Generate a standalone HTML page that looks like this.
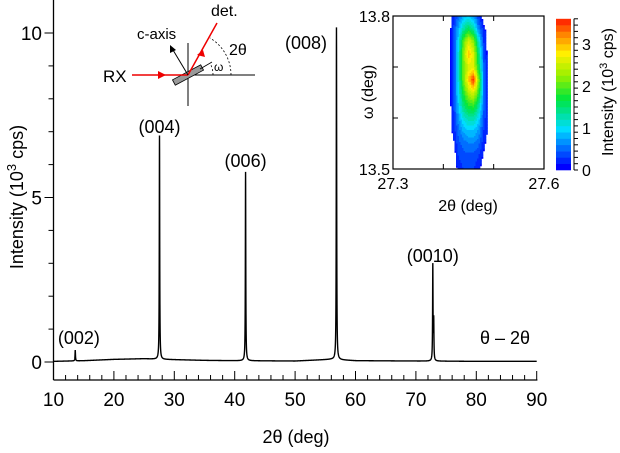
<!DOCTYPE html>
<html><head><meta charset="utf-8"><style>
body{margin:0;background:#fff;width:620px;height:448px;overflow:hidden}
svg text{font-family:"Liberation Sans",Arial,sans-serif;fill:#000}
</style></head><body>
<svg id="c" width="620" height="448" xmlns="http://www.w3.org/2000/svg">
<g id="main"></g>
<g id="diag">
 <line x1="188" y1="43" x2="188" y2="106" stroke="#000" stroke-width="1"/>
 <line x1="188" y1="75" x2="255" y2="75" stroke="#000" stroke-width="1"/>
 <rect x="172" y="72" width="32" height="6" fill="#999" stroke="#000" stroke-width="0.8" transform="rotate(-28 188 75)"/>
 <line x1="132" y1="75" x2="188" y2="75" stroke="#e00" stroke-width="1.5"/>
 <polygon points="166,75 158,71 158,79" fill="#e00"/>
 <line x1="188" y1="75" x2="217" y2="23" stroke="#e00" stroke-width="1.5"/>
 <polygon points="203,50 197,55 205,57" fill="#e00"/>
 <line x1="188" y1="75" x2="173" y2="50" stroke="#000" stroke-width="1"/>
 <polygon points="170,45 170,53 176,50" fill="#000"/>
 <line x1="200" y1="69" x2="212" y2="62" stroke="#000" stroke-width="0.8"/>
 <path d="M231,75 A43,43 0 0 0 210,38" fill="none" stroke="#000" stroke-dasharray="2,2" stroke-width="0.8"/>
 <path d="M213,75 A25,25 0 0 0 210,63" fill="none" stroke="#000" stroke-dasharray="2,2" stroke-width="0.8"/>
 <text x="103" y="82" font-size="17">RX</text>
 <text x="137" y="39" font-size="15">c-axis</text>
 <text x="211" y="16" font-size="16">det.</text>
 <text x="229" y="55" font-size="16">2θ</text>
 <text x="214" y="71" font-size="12">ω</text>
</g>
<g id="inset"></g>
</svg>
<script>
// main scan data
const xTicks=[10,20,30,40,50,60,70,80,90];
const yTicks=[0,5,10];
const peakPos=[13.6,27.55,41.8,56.85,72.8,72.95];
const peakHeight=[0.33,6.8,5.74,10.1,2.9,1.2];
const peakLabels=["(002)","(004)","(006)","(008)","(0010)"];
const peakLabelPos=[[14.2,0.55],[27.55,6.96],[41.8,5.93],[51.8,9.51],[72.8,3.04]];
const baseX=[10,15,20,25,28,35,40,50,56,60,70,80,90];
const baseY=[0.02,0.04,0.08,0.1,0.08,0.05,0.04,0.03,0.08,0.04,0.03,0.02,0.02];
// inset map data (10^3 cps), rows ω 13.800 -> 13.500 step 0.025, cols 2θ 27.40 -> 27.52 step 0.01
const mapTheta=[27.40,27.41,27.42,27.43,27.44,27.45,27.46,27.47,27.48,27.49,27.50,27.51,27.52];
const mapOmega=[13.8,13.775,13.75,13.725,13.7,13.675,13.65,13.625,13.6,13.575,13.55,13.525,13.5];
const mapI=[
[0,0,0.2,0.5,0.8,0.9,0.7,0.3,0,0,0,0,0],
[0,0,0.3,0.8,1.3,1.6,1.3,0.6,0.2,0,0,0,0],
[0,0,0.3,1.0,2.0,2.6,2.2,1.2,0.3,0,0,0,0],
[0,0,0.3,1.1,2.2,3.0,2.6,1.5,0.4,0,0,0,0],
[0,0,0.3,1.1,2.1,2.6,2.6,1.7,0.5,0,0,0,0],
[0,0,0.3,1.1,2.1,2.9,3.6,2.2,0.6,0.1,0,0,0],
[0,0,0.3,1.0,1.8,2.4,2.6,1.9,0.6,0.1,0,0,0],
[0,0,0.3,0.9,1.5,1.8,1.9,1.4,0.5,0.1,0,0,0],
[0,0,0.2,0.7,1.1,1.3,1.3,1.0,0.4,0.1,0,0,0],
[0,0,0.2,0.5,0.8,0.9,0.9,0.7,0.3,0.1,0,0,0],
[0,0,0.1,0.4,0.5,0.6,0.6,0.5,0.2,0,0,0,0],
[0,0,0,0.3,0.4,0.4,0.4,0.3,0.1,0,0,0,0],
[0,0,0,0.2,0.3,0.3,0.3,0.2,0,0,0,0,0]];
const cbTicks=[0,1,2,3];

const NS="http://www.w3.org/2000/svg";
function mk(p,t,a){const e=document.createElementNS(NS,t);for(const k in a)e.setAttribute(k,a[k]);p.appendChild(e);return e;}
const X=v=>53.5+(v-10)*6.04, Y=v=>362-v*32.9;
const M=document.getElementById('main');
let e=mk(M,'line',{x1:X(10),y1:0,x2:X(10),y2:380,stroke:'#000','stroke-width':1.3});

e=mk(M,'line',{x1:X(10),y1:380,x2:X(90)+0.7,y2:380,stroke:'#000','stroke-width':1.3});

for(let v=10;v<=90;v+=2){const maj=(v%10===0);mk(M,'line',{x1:X(v),y1:380,x2:X(v),y2:380-(maj?9:5),stroke:'#000'});}
xTicks.forEach(v=>{const t=mk(M,'text',{x:X(v),y:406,'font-size':19,'text-anchor':'middle'});t.textContent=v;
});
for(let v=0;v<=10.5;v+=1){const maj=(v%5===0);mk(M,'line',{x1:X(10),y1:Y(v),x2:X(10)-(maj?9:5),y2:Y(v),stroke:'#000'});}
yTicks.forEach(v=>{const t=mk(M,'text',{x:42,y:Y(v)+7,'font-size':19,'text-anchor':'end'});t.textContent=v;
});
e=mk(M,'text',{x:0,y:0,'font-size':18,'text-anchor':'middle',transform:'translate(23,197) rotate(-90)'});
e.innerHTML='Intensity (10<tspan dy="-7" font-size="13">3</tspan><tspan dy="7"> cps)</tspan>';

e=mk(M,'text',{x:296,y:443,'font-size':18,'text-anchor':'middle'});e.textContent='2θ (deg)';

function base(x){for(let i=0;i<baseX.length-1;i++)if(x<=baseX[i+1]){const f=(x-baseX[i])/(baseX[i+1]-baseX[i]);return baseY[i]+f*(baseY[i+1]-baseY[i]);}return baseY[baseY.length-1];}
let d='';
for(let x=10;x<=90.0001;x+=0.01){let y=base(x);peakPos.forEach((p,i)=>{const w=0.08;y+=peakHeight[i]/(1+((x-p)/w)**2*4);});
d+=(d?'L':'M')+X(x).toFixed(2)+','+Y(y).toFixed(2);}
e=mk(M,'path',{d:d,fill:'none',stroke:'#000','stroke-width':1.4});

peakLabels.forEach((s,i)=>{const t=mk(M,'text',{x:X(peakLabelPos[i][0]),y:Y(peakLabelPos[i][1]),'font-size':18,'text-anchor':'middle'});t.textContent=s;
});
e=mk(M,'text',{x:505,y:344,'font-size':18,'text-anchor':'middle'});e.textContent='θ – 2θ';


const I=document.getElementById('inset');
const ix0=393,ix1=544,iy0=16,iy1=169;
const IX=v=>ix0+(v-27.3)/0.3*(ix1-ix0), IY=v=>iy1-(v-13.5)/0.3*(iy1-iy0);
const vmax=3.6,nlev=24;
function col(v){let t=Math.min(1,Math.max(0,v/vmax));t=Math.floor(t*nlev)/nlev;
const stops=[[0,0,0,255],[0.25,0,220,255],[0.45,0,230,60],[0.6,150,240,0],[0.75,255,240,0],[0.88,255,130,0],[1,255,0,0]];
for(let i=0;i<stops.length-1;i++)if(t<=stops[i+1][0]){const a=stops[i],b=stops[i+1],f=(t-a[0])/(b[0]-a[0]);
return `rgb(${Math.round(a[1]+f*(b[1]-a[1]))},${Math.round(a[2]+f*(b[2]-a[2]))},${Math.round(a[3]+f*(b[3]-a[3]))})`;}return 'rgb(255,0,0)';}
function interp(th,om){const fc=(th-mapTheta[0])/0.01, fr=(mapOmega[0]-om)/0.025;
if(fc<0||fc>mapTheta.length-1||fr<0||fr>mapOmega.length-1)return 0;
const c=Math.min(Math.floor(fc),mapTheta.length-2),r=Math.min(Math.floor(fr),mapOmega.length-2),a=fc-c,b=fr-r;
return mapI[r][c]*(1-a)*(1-b)+mapI[r][c+1]*a*(1-b)+mapI[r+1][c]*(1-a)*b+mapI[r+1][c+1]*a*b;}
const cells=mk(I,'g',{});

const st=1.5;
for(let py=iy0;py<iy1;py+=st)for(let px=ix0;px<ix1;px+=st){
const th=27.3+(px+st/2-ix0)/(ix1-ix0)*0.3, om=13.5+(iy1-py-st/2)/(iy1-iy0)*0.3;
const v=interp(th,om);if(v<0.14)continue;
mk(cells,'rect',{x:px,y:py,width:st+0.3,height:st+0.3,fill:col(v)});}
e=mk(I,'rect',{x:ix0,y:iy0,width:ix1-ix0,height:iy1-iy0,fill:'none',stroke:'#000','stroke-width':1.2});

[27.4,27.5].forEach(v=>{mk(I,'line',{x1:IX(v),y1:iy1,x2:IX(v),y2:iy1-5,stroke:'#000'});mk(I,'line',{x1:IX(v),y1:iy0,x2:IX(v),y2:iy0+5,stroke:'#000'});});
[13.6,13.7].forEach(v=>{mk(I,'line',{x1:ix0,y1:IY(v),x2:ix0+5,y2:IY(v),stroke:'#000'});mk(I,'line',{x1:ix1,y1:IY(v),x2:ix1-5,y2:IY(v),stroke:'#000'});});
[[27.3,'27.3'],[27.6,'27.6']].forEach(([v,s])=>{const t=mk(I,'text',{x:IX(v),y:189,'font-size':16,'text-anchor':'middle'});t.textContent=s;
});
[[13.8,'13.8'],[13.5,'13.5']].forEach(([v,s])=>{const t=mk(I,'text',{x:390,y:IY(v)+6,'font-size':16,'text-anchor':'end'});t.textContent=s;
});
e=mk(I,'text',{x:468,y:211,'font-size':16,'text-anchor':'middle'});e.textContent='2θ (deg)';

e=mk(I,'text',{x:0,y:0,'font-size':16,'text-anchor':'middle',transform:'translate(373,92) rotate(-90)'});e.textContent='ω (deg)';

const CB=v=>170-v*42;
const cb=mk(I,'g',{});
for(let k=0;k<nlev;k++){const v0=k/nlev*vmax,v1=(k+1)/nlev*vmax;
mk(cb,'rect',{x:556,y:CB(v1),width:15,height:CB(v0)-CB(v1)+0.3,fill:col(v0+0.001)});}
mk(cb,'line',{x1:574,y1:CB(0),x2:574,y2:CB(vmax),stroke:'#000'});
for(let v=0;v<=3.6;v+=0.15){mk(cb,'line',{x1:574,y1:CB(v),x2:578,y2:CB(v),stroke:'#000'});}
cbTicks.forEach(v=>{const t=mk(cb,'text',{x:582,y:CB(v)+6,'font-size':16});t.textContent=v;
});
e=mk(I,'text',{x:0,y:0,'font-size':16,'text-anchor':'middle',transform:'translate(613,92) rotate(-90)'});
e.innerHTML='Intensity (10<tspan dy="-6" font-size="11">3</tspan><tspan dy="6"> cps)</tspan>';

</script>
</body></html>
